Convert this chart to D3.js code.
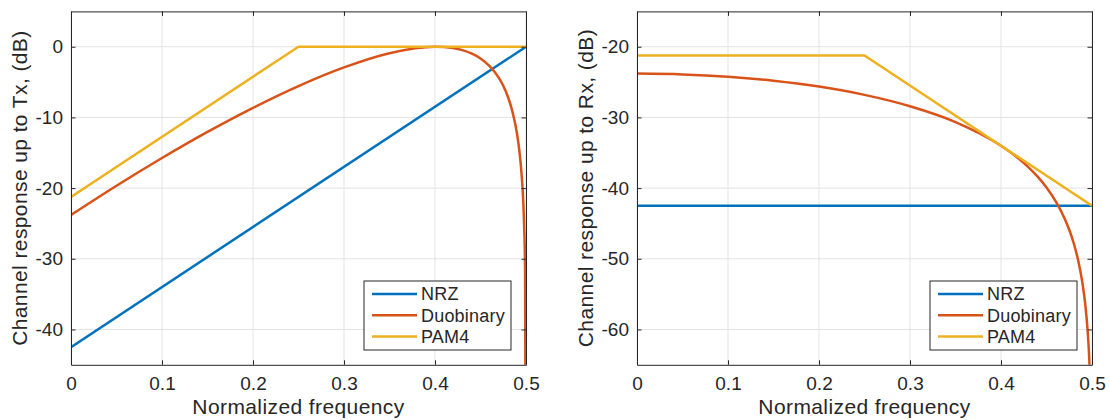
<!DOCTYPE html>
<html>
<head>
<meta charset="utf-8">
<script src="https://cdn.jsdelivr.net/npm/d3@7"></script>
<style>
  body { margin: 0; background: #fff; }
  text { font-family: "Liberation Sans", Arial, sans-serif; fill: #262626; }
</style>
</head>
<body>
<div id="root"></div>
<script>
const width = 1110;
const height = 420;

// series names + colours (MATLAB default order)
const seriesNames = ["NRZ", "Duobinary", "PAM4"];
const seriesColors = ["#0072BD", "#D95319", "#EDB120"];

const xTicks = [0, 0.1, 0.2, 0.3, 0.4, 0.5];
const txTicks = [-40, -30, -20, -10, 0];
const rxTicks = [-60, -50, -40, -30, -20];

// NRZ / PAM4 are piecewise linear
const nrzFreq = [0, 0.5];
const nrzTx = [-42.5, 0];
const nrzRx = [-42.5, -42.5];

const pamFreq = [0, 0.25, 0.5];
const pamTx = [-21.25, 0, 0];
const pamRx = [-21.25, -21.25, -42.5];

// duobinary
const duoFreq = [0, 0.05, 0.1, 0.15, 0.2, 0.25, 0.3, 0.35, 0.4, 0.41, 0.42, 0.43, 0.44, 0.45,
  0.46, 0.47, 0.475, 0.48, 0.485, 0.49, 0.4925, 0.495, 0.4975, 0.499, 0.4995, 0.5];
const duoTx = [-23.8, -19.66, -15.74, -12.05, -8.64, -5.56, -2.92, -0.91, 0, -0.04, -0.19, -0.48,
  -0.95, -1.66, -2.74, -4.38, -5.53, -7.04, -9.12, -12.21, -14.5, -17.81, -23.61, -31.45, -57.4, -90];
const duoRx = [-23.8, -23.91, -24.24, -24.8, -25.64, -26.81, -28.42, -30.66, -34.0, -34.89, -35.89,
  -37.03, -38.35, -39.91, -41.84, -44.33, -45.9, -47.84, -50.34, -53.86, -56.36, -59.88, -65.9,
  -73.86, -99.9, -130];

const zip = (xs, ys) => xs.map((x, i) => [x, ys[i]]);

const panels = [
  {
    left: 71, yDomain: [-45, 5], ticks: txTicks,
    ylabel: "Channel response up to Tx, (dB)",
    series: [zip(nrzFreq, nrzTx), zip(duoFreq, duoTx), zip(pamFreq, pamTx)]
  },
  {
    left: 637, yDomain: [-65, -15], ticks: rxTicks,
    ylabel: "Channel response up to Rx, (dB)",
    series: [zip(nrzFreq, nrzRx), zip(duoFreq, duoRx), zip(pamFreq, pamRx)]
  }
];

const plotW = 455;
const plotTop = 11.4;
const plotH = 353.4;
const tickLen = 4.5;

const svg = d3.select("#root")
  .append("svg")
  .attr("width", width)
  .attr("height", height);

panels.forEach((p, pi) => {
  const x = d3.scaleLinear().domain([0, 0.5]).range([0, plotW]);
  const y = d3.scaleLinear().domain(p.yDomain).range([plotH, 0]);

  const g = svg.append("g").attr("transform", `translate(${p.left},${plotTop})`);

  g.append("clipPath").attr("id", "clip" + pi)
    .append("rect").attr("width", plotW).attr("height", plotH);

  // grid
  g.append("g").selectAll("line").data(xTicks).join("line")
    .attr("x1", x).attr("x2", x).attr("y1", 0).attr("y2", plotH)
    .attr("stroke", "#e3e3e3").attr("stroke-width", 1);
  g.append("g").selectAll("line").data(p.ticks).join("line")
    .attr("y1", y).attr("y2", y).attr("x1", 0).attr("x2", plotW)
    .attr("stroke", "#e3e3e3").attr("stroke-width", 1);

  // curves: duobinary smooth, the others straight segments
  const line = (i) => d3.line()
    .x((d) => x(d[0]))
    .y((d) => y(d[1]))
    .curve(i === 1 ? d3.curveMonotoneX : d3.curveLinear);

  g.append("g").attr("clip-path", `url(#clip${pi})`)
    .selectAll("path").data(p.series).join("path")
    .attr("d", (d, i) => line(i)(d))
    .attr("fill", "none")
    .attr("stroke", (d, i) => seriesColors[i])
    .attr("stroke-width", 2.5)
    .attr("stroke-linejoin", "round");

  // axes (box with inward ticks all round)
  const fmt = (d) => (d === 0 ? "0" : String(d));
  const bottom = g.append("g").attr("transform", `translate(0,${plotH})`)
    .call(d3.axisBottom(x).tickValues(xTicks).tickFormat(fmt).tickSizeInner(-tickLen).tickSizeOuter(0).tickPadding(12));
  const topAx = g.append("g")
    .call(d3.axisTop(x).tickValues(xTicks).tickFormat("").tickSizeInner(-tickLen).tickSizeOuter(0));
  const leftAx = g.append("g")
    .call(d3.axisLeft(y).tickValues(p.ticks).tickFormat(fmt).tickSizeInner(-tickLen).tickSizeOuter(0).tickPadding(8));
  const rightAx = g.append("g").attr("transform", `translate(${plotW},0)`)
    .call(d3.axisRight(y).tickValues(p.ticks).tickFormat("").tickSizeInner(-tickLen).tickSizeOuter(0));

  [bottom, topAx, leftAx, rightAx].forEach((a) => {
    a.select(".domain").attr("stroke", "#262626").attr("stroke-width", 1);
    a.selectAll(".tick line").attr("stroke", "#262626");
    a.selectAll("text").attr("font-size", 19).attr("fill", "#262626")
      .attr("font-family", "Liberation Sans, Arial, sans-serif");
  });

  // axis labels
  g.append("text")
    .attr("x", plotW / 2).attr("y", 414 - plotTop)
    .attr("text-anchor", "middle")
    .attr("font-size", 21).attr("letter-spacing", 0.4)
    .text("Normalized frequency");

  g.append("text")
    .attr("transform", `translate(-44,${plotH / 2}) rotate(-90)`)
    .attr("text-anchor", "middle")
    .attr("font-size", 21).attr("letter-spacing", 0.4)
    .text(p.ylabel);

  // legend
  const lg = g.append("g").attr("transform", `translate(${plotW - 15 - 147},${281 - plotTop})`);
  lg.append("rect").attr("width", 147).attr("height", 69)
    .attr("fill", "#fff").attr("stroke", "#262626").attr("stroke-width", 1);
  const rows = lg.selectAll("g.row").data(seriesNames).join("g")
    .attr("class", "row")
    .attr("transform", (d, i) => `translate(0,${13 + i * 21.3})`);
  rows.append("line")
    .attr("x1", 8).attr("x2", 53)
    .attr("stroke", (d, i) => seriesColors[i]).attr("stroke-width", 2.5);
  rows.append("text")
    .attr("x", 57).attr("dy", "0.35em")
    .attr("font-size", 18).attr("letter-spacing", 0.2)
    .text((d) => d);
});
</script>
</body>
</html>
